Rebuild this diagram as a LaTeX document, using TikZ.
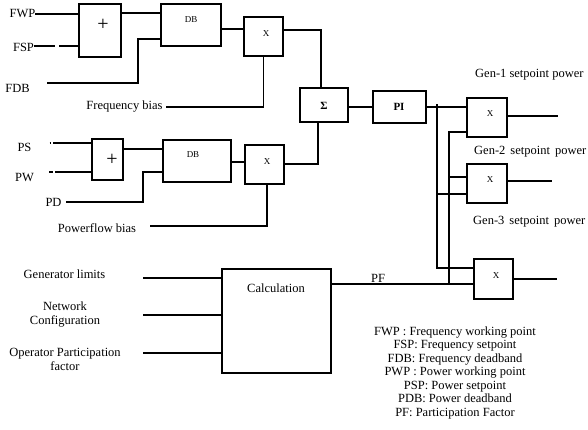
\documentclass[tikz,border=0pt]{standalone}
\usepackage{fontspec}
\setmainfont{Liberation Serif}
\begin{document}
\begin{tikzpicture}[x=1pt,y=-1pt,
  blk/.style={draw, line width=1.3pt, inner sep=0pt, fill=none},
  wire/.style={line width=1.3pt},
  txt/.style={inner sep=0pt, font=\fontsize{12.5}{14}\selectfont},
  small/.style={inner sep=0pt, font=\fontsize{9}{10}\selectfont},
  plus/.style={inner sep=0pt, font=\fontsize{20}{20}\selectfont},
  bold/.style={inner sep=0pt, font=\fontsize{11}{12}\selectfont\bfseries}]
\useasboundingbox (0,0) rectangle (588,429);

% ---- boxes ----
\node[blk, minimum width=42pt, minimum height=53pt] (plus1) at (100,30.5) {};
\node[blk, minimum width=60pt, minimum height=42pt] (DB1) at (191,25) {};
\node[blk, minimum width=39pt, minimum height=39pt] (X1) at (263.5,36.5) {};
\node[blk, minimum width=48pt, minimum height=34pt] (sig) at (324,105) {};
\node[blk, minimum width=53pt, minimum height=32pt] (PI) at (399.5,107) {};
\node[blk, minimum width=31pt, minimum height=41pt] (plus2) at (107.5,159.5) {};
\node[blk, minimum width=68pt, minimum height=42pt] (DB2) at (197,161) {};
\node[blk, minimum width=39pt, minimum height=39pt] (X2) at (264.5,164.5) {};
\node[blk, minimum width=40pt, minimum height=39pt] (Xg1) at (487,117.5) {};
\node[blk, minimum width=40pt, minimum height=39pt] (Xg2) at (487,183.5) {};
\node[blk, minimum width=39pt, minimum height=40pt] (Xg3) at (493.5,279) {};
\node[blk, minimum width=109pt, minimum height=104pt] (calc) at (276.5,321) {};

% ---- box texts ----
\node[plus] (plus1t) at (103,25) {+};
\node[small] (DB1t) at (191,20) {DB};
\node[small] (X1t) at (266,34) {X};
\node[bold] (sigt) at (324,106) {Σ};
\node[bold] (PIt) at (399,107) {PI};
\node[plus] (plus2t) at (112,160) {+};
\node[small] (DB2t) at (193,155) {DB};
\node[small] (X2t) at (267,162) {X};
\node[small] (Xg1t) at (490,114) {X};
\node[small] (Xg2t) at (490,180) {X};
\node[small] (Xg3t) at (496,276) {X};
\node[txt] (calct) at (276,288) {Calculation};

% ---- labels ----
\node[txt] (fwpT) at (22.5,13) {FWP};
\node[txt] (fspT) at (23.5,47.5) {FSP};
\node[txt] (fdbT) at (17.5,88) {FDB};
\node[txt] (fbT) at (124.5,107) {Frequency bias};
\node[txt] (psT) at (24.5,147) {PS};
\node[txt] (pwT) at (24.5,177.5) {PW};
\node[txt] (pdT) at (53.5,202) {PD};
\node[txt] (pbT) at (97,228) {Powerflow bias};
\node[txt, anchor=west] (g1T) at (475,75) {Gen-1 setpoint power};
\node[txt, anchor=west] (g2T) at (474,152) {Gen-2\hspace{5pt}setpoint\hspace{5pt}power};
\node[txt, anchor=west] (g3T) at (473,222) {Gen-3\hspace{5pt}setpoint\hspace{5pt}power};
\node[txt] (pfT) at (378,278) {PF};
\node[txt] (glT) at (64.5,274) {Generator limits};
\node[txt, align=center] (ncT) at (65,315) {Network\\Configuration};
\node[txt, align=center] (opT) at (65,359.5) {Operator Participation\\factor};
\node[txt, align=center, font=\fontsize{12.5}{13.5}\selectfont] (legT) at (455,372.5) {FWP : Frequency working point\\FSP: Frequency setpoint\\FDB: Frequency deadband\\PWP : Power working point\\PSP: Power setpoint\\PDB: Power deadband\\PF: Participation Factor};

% ---- connectors: frequency branch ----
\coordinate (fwpL) at (35,14);
\draw[wire] (fwpL) -- (fwpL -| plus1.west);
\coordinate (fspL) at (34,46);
\draw[wire] (fspL) -- ++(21,0) ++(4,0) -- (fspL -| plus1.west);
\coordinate (y13) at (0,13);
\draw[wire] (y13 -| plus1.east) -- (y13 -| DB1.west);
\coordinate (fdb) at (47,83);
\coordinate (fdbk) at (138,39);
\draw[wire] (fdb) -| (fdbk) -- (fdbk -| DB1.west);
\coordinate (y29) at (0,29);
\draw[wire] (y29 -| DB1.east) -- (y29 -| X1.west);
\coordinate (s1) at (321,30);
\draw[wire] (s1 -| X1.east) -- (s1) -- (s1 |- sig.north);
\coordinate (fb) at (166,107);
\draw[wire] (X1.south) |- (fb);

% ---- sigma / PI ----
\coordinate (s2) at (318,164);
\draw[wire] (s2 |- sig.south) -- (s2) -- (s2 -| X2.east);
\coordinate (y107) at (0,107);
\draw[wire] (y107 -| sig.east) -- (y107 -| PI.west);

% ---- power branch ----
\coordinate (psL) at (53,143);
\draw[wire] (psL) ++(-3.5,0) -- ++(1.5,0);
\draw[wire] (psL) -- (psL -| plus2.west);
\coordinate (pwL) at (55,172);
\draw[wire] (pwL) ++(-6,0) -- ++(4,0);
\draw[wire] (pwL) -- (pwL -| plus2.west);
\coordinate (y149) at (0,149);
\draw[wire] (y149 -| plus2.east) -- (y149 -| DB2.west);
\coordinate (pd) at (66,202);
\coordinate (pdk) at (143,172);
\draw[wire] (pd) -| (pdk) -- (pdk -| DB2.west);
\coordinate (y162) at (0,162);
\draw[wire] (y162 -| DB2.east) -- (y162 -| X2.west);
\coordinate (x267) at (267,0);
\coordinate (pb) at (150,226);
\draw[wire] (x267 |- X2.south) |- (pb);

% ---- distribution to generators ----
\draw[wire] (y107 -| PI.east) -- (y107 -| Xg1.west);
\coordinate (b1t) at (437,104);
\coordinate (b1b) at (437,268);
\draw[wire] (b1t) -- (b1b) -- (b1b -| Xg3.west);
\coordinate (b1m) at (437,194);
\draw[wire] (b1m) -- (b1m -| Xg2.west);
\coordinate (b2t) at (449,132);
\coordinate (b2b) at (449,284);
\draw[wire] (b2t -| Xg1.west) -- (b2t) -- (b2b);
\coordinate (b2m) at (449,177);
\draw[wire] (b2m) -- (b2m -| Xg2.west);
\coordinate (pfy) at (0,284);
\draw[wire] (pfy -| calc.east) -- (pfy -| Xg3.west);

% ---- outputs ----
\coordinate (o1) at (558,116);
\draw[wire] (o1 -| Xg1.east) -- (o1);
\coordinate (o2) at (552,181);
\draw[wire] (o2 -| Xg2.east) -- (o2);
\coordinate (o3) at (557,279);
\draw[wire] (o3 -| Xg3.east) -- (o3);

% ---- calculation inputs ----
\coordinate (i1) at (143,278);
\draw[wire] (i1) -- (i1 -| calc.west);
\coordinate (i2) at (143,315);
\draw[wire] (i2) -- (i2 -| calc.west);
\coordinate (i3) at (143,353);
\draw[wire] (i3) -- (i3 -| calc.west);
\end{tikzpicture}
\end{document}
